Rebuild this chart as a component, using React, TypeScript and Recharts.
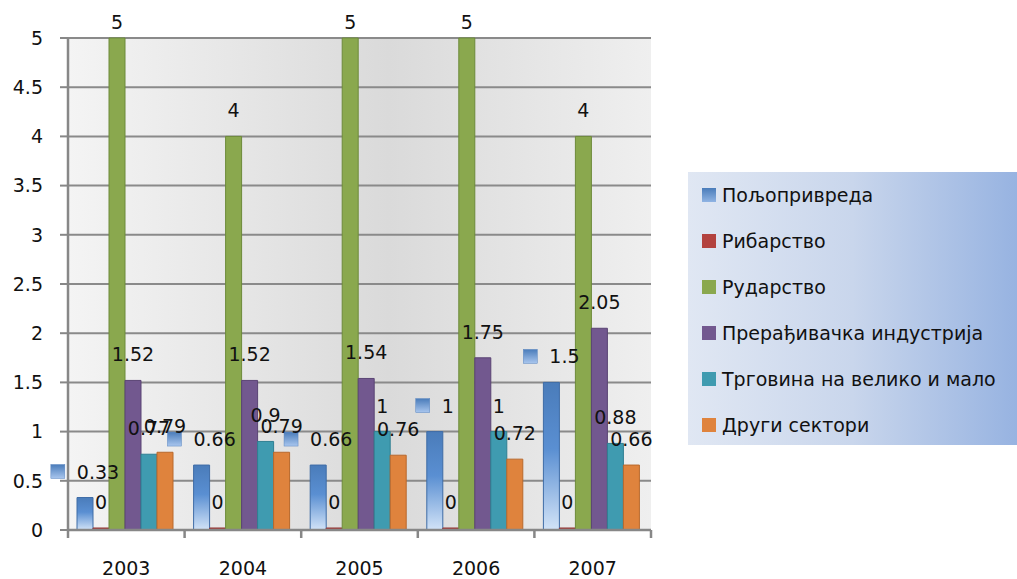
import { Bar, BarChart, CartesianGrid, LabelList, XAxis, YAxis } from 'recharts';

const YEARS = ['2003', '2004', '2005', '2006', '2007'];
const AGRICULTURE = [0.33, 0.66, 0.66, 1, 1.5];
const FISHING = [0, 0, 0, 0, 0];
const MINING = [5, 4, 5, 5, 4];
const MANUFACTURING = [1.52, 1.52, 1.54, 1.75, 2.05];
const TRADE = [0.77, 0.9, 1, 1, 0.88];
const OTHER = [0.79, 0.79, 0.76, 0.72, 0.66];
const Y_TICKS = [0, 0.5, 1, 1.5, 2, 2.5, 3, 3.5, 4, 4.5, 5];

const FONT = '"DejaVu Sans", sans-serif';
const AXIS_COLOR = '#878787';

const SERIES = [
  { key: 'agri', name: 'Пољопривреда', values: AGRICULTURE, fill: 'url(#agriFill)', stroke: '#3e6ca6', gradient: true },
  { key: 'fish', name: 'Рибарство', values: FISHING, fill: '#b3423f', stroke: '#8f3330', gradient: false },
  { key: 'mine', name: 'Рударство', values: MINING, fill: '#8aa84e', stroke: '#6d8a3a', gradient: false },
  { key: 'manu', name: 'Прерађивачка индустрија', values: MANUFACTURING, fill: '#72588f', stroke: '#5a4474', gradient: false },
  { key: 'trade', name: 'Трговина на велико и мало', values: TRADE, fill: '#3f9bb0', stroke: '#2f7f92', gradient: false },
  { key: 'other', name: 'Други сектори', values: OTHER, fill: '#df833d', stroke: '#b8682c', gradient: false },
];

const data = YEARS.map((year, i) => {
  const row: Record<string, string | number> = { year };
  SERIES.forEach((s) => {
    row[s.key] = s.values[i];
  });
  return row;
});

const textWidth = (t: string) => t.split('').reduce((w, c) => w + (c === '.' ? 6 : 12.1), 0);

function makeLabel(withKey: boolean) {
  return function ValueLabel(props: any) {
    const x = Number(props.x);
    const y = Number(props.y);
    const width = Number(props.width);
    const text = String(props.value);
    const cx = x + width / 2;
    const ly = Math.max(y - 26, 22);
    if (!withKey) {
      return (
        <text x={cx} y={ly} textAnchor="middle" dominantBaseline="central" fontSize={19} fontFamily={FONT} fill="#111">
          {text}
        </text>
      );
    }
    const total = 14 + 12 + textWidth(text);
    const start = cx - total / 2;
    return (
      <g>
        <rect x={start} y={ly - 7} width={14} height={14} fill="url(#keyFill)" stroke="#5b86c0" strokeWidth={0.5} />
        <text x={start + 26} y={ly} textAnchor="start" dominantBaseline="central" fontSize={19} fontFamily={FONT} fill="#111">
          {text}
        </text>
      </g>
    );
  };
}

function YearTick(props: any) {
  const { x, y, payload, index } = props;
  const band = 583 / YEARS.length;
  return (
    <g>
      <line x1={x - band / 2} y1={y} x2={x - band / 2} y2={y + 8} stroke={AXIS_COLOR} strokeWidth={2.5} />
      {index === YEARS.length - 1 && (
        <line x1={x + band / 2} y1={y} x2={x + band / 2} y2={y + 8} stroke={AXIS_COLOR} strokeWidth={2.5} />
      )}
      <text x={x} y={y + 38} textAnchor="middle" dominantBaseline="central" fontSize={19} fontFamily={FONT} fill="#111">
        {payload.value}
      </text>
    </g>
  );
}

function SideLegend() {
  return (
    <div
      style={{
        position: 'absolute',
        left: 688,
        top: 172,
        width: 329,
        height: 273,
        background: 'linear-gradient(to right, #e0e7f3 0%, #c9d6ec 50%, #97b3e1 100%)',
        fontFamily: FONT,
        fontSize: 19,
        color: '#111',
      }}
    >
      {SERIES.map((s, i) => (
        <div
          key={s.key}
          style={{
            position: 'absolute',
            left: 14,
            top: 23 + i * 46 - 12,
            height: 24,
            display: 'flex',
            alignItems: 'center',
            whiteSpace: 'nowrap',
          }}
        >
          <span
            style={{
              display: 'inline-block',
              width: 14,
              height: 14,
              marginRight: 6,
              background: s.gradient ? 'linear-gradient(to bottom, #4a7cba, #8fb3e3)' : s.fill,
            }}
          />
          {s.name}
        </div>
      ))}
    </div>
  );
}

export default function App() {
  return (
    <div style={{ position: 'absolute', left: 0, top: 0, width: 1017, height: 579, background: '#fff' }}>
      <BarChart
        width={1017}
        height={579}
        data={data}
        margin={{ top: 38, right: 366, left: 8, bottom: 0 }}
        barCategoryGap={9}
        barGap={0}
        style={{ fontFamily: FONT }}
      >
        <defs>
          <linearGradient id="bgFill" x1="0" y1="0" x2="1" y2="0">
            <stop offset="0%" stopColor="#f4f4f4" />
            <stop offset="55%" stopColor="#dadada" />
            <stop offset="100%" stopColor="#efefef" />
          </linearGradient>
          <linearGradient id="agriFill" x1="0" y1="0" x2="0" y2="1">
            <stop offset="0%" stopColor="#4a7cba" />
            <stop offset="45%" stopColor="#5a8fd2" />
            <stop offset="100%" stopColor="#d2e3f7" />
          </linearGradient>
          <linearGradient id="keyFill" x1="0" y1="0" x2="0" y2="1">
            <stop offset="0%" stopColor="#4a7cba" />
            <stop offset="100%" stopColor="#a9c6ee" />
          </linearGradient>
        </defs>
        <CartesianGrid vertical={false} stroke="#8a8a8a" strokeWidth={2} fill="url(#bgFill)" fillOpacity={1} />
        <XAxis
          dataKey="year"
          height={49}
          tickLine={false}
          tickSize={0}
          tickMargin={0}
          axisLine={{ stroke: AXIS_COLOR, strokeWidth: 2.5 }}
          tick={<YearTick />}
          interval={0}
        />
        <YAxis
          width={60}
          domain={[0, 5]}
          ticks={Y_TICKS}
          interval={0}
          tickSize={8}
          tickMargin={17}
          tickLine={{ stroke: AXIS_COLOR, strokeWidth: 2 }}
          axisLine={{ stroke: AXIS_COLOR, strokeWidth: 2.5 }}
          tick={{ fill: '#111', fontSize: 19, fontFamily: FONT }}
        />
        {SERIES.map((s, i) => (
          <Bar
            key={s.key}
            dataKey={s.key}
            name={s.name}
            fill={s.fill}
            stroke={s.stroke}
            strokeWidth={1}
            minPointSize={2}
            isAnimationActive={false}
          >
            <LabelList dataKey={s.key} content={makeLabel(i === 0)} />
          </Bar>
        ))}
      </BarChart>
      <SideLegend />
    </div>
  );
}
